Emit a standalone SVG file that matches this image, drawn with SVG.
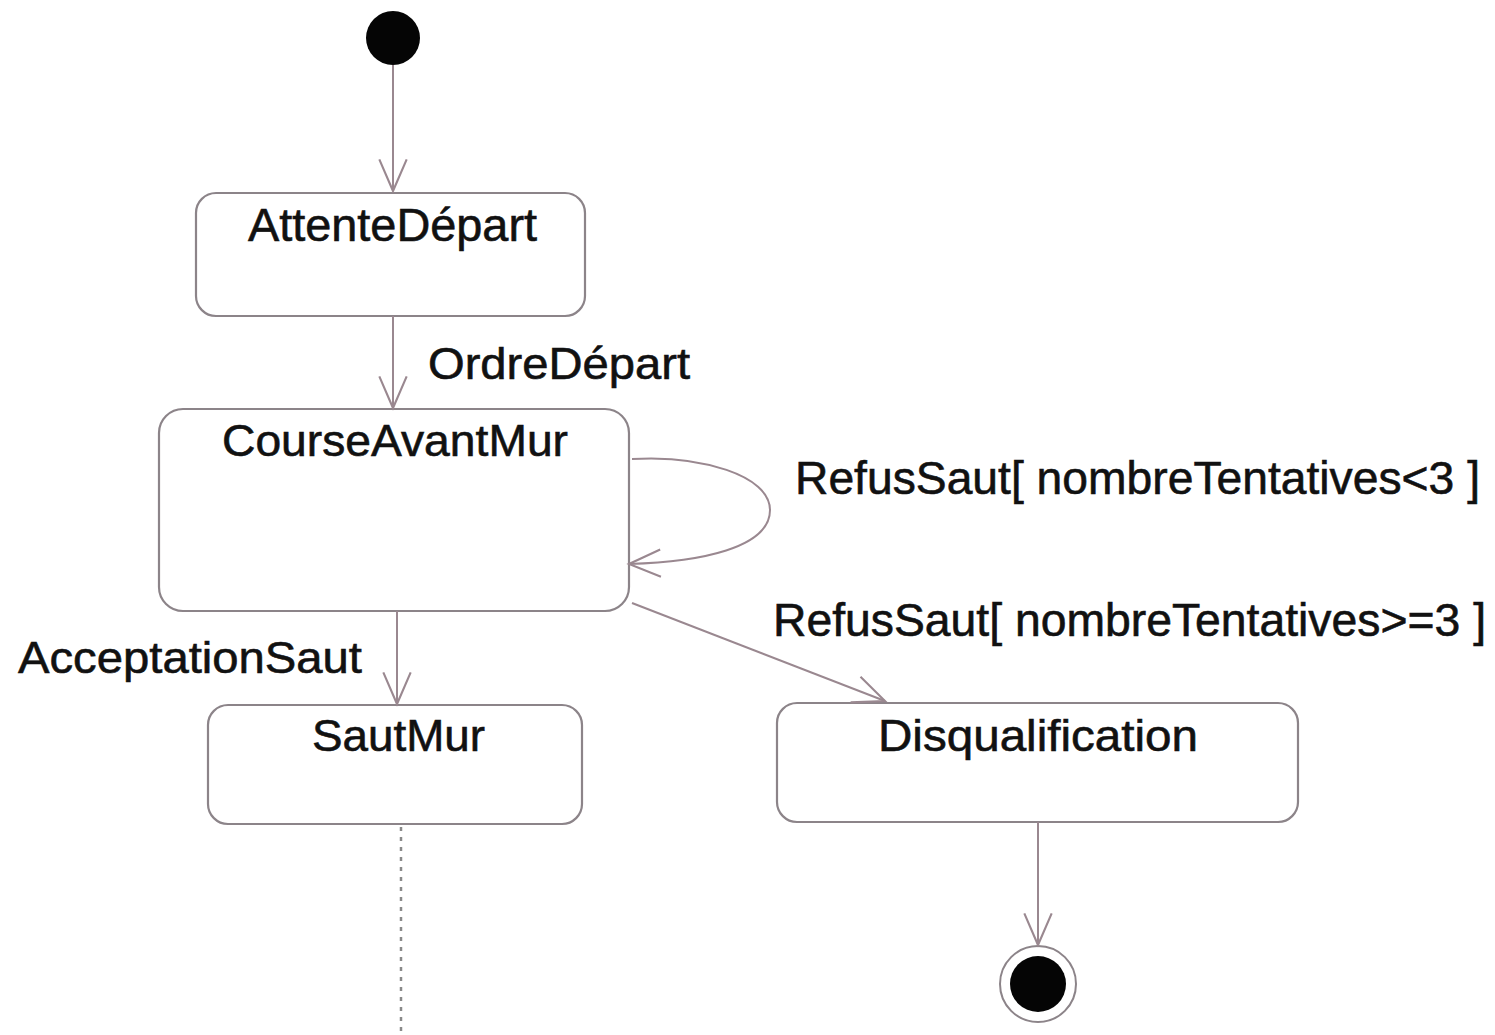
<svg xmlns="http://www.w3.org/2000/svg" width="1495" height="1035" viewBox="0 0 1495 1035">
  <defs>
    <marker id="open-arrow" markerUnits="userSpaceOnUse" markerWidth="40" markerHeight="40" viewBox="-34 -16 38 32" refX="0" refY="0" orient="auto">
      <path d="M -30 -13 L 0 0 L -30 13" fill="none" stroke="#9a8890" stroke-width="2"/>
    </marker>
  </defs>
  <style>
    .state rect { fill: #ffffff; stroke: #8c8489; stroke-width: 2.2; }
    .label { font-family: "Liberation Sans", Arial, sans-serif; fill: #111111; stroke: #111111; stroke-width: 0.6; }
    .edge { fill: none; stroke: #9a8890; stroke-width: 2; }
    .lifeline { fill: none; stroke: #8a8a8a; stroke-width: 2.5; stroke-dasharray: 4 6; }
  </style>
  <rect width="1495" height="1035" fill="#ffffff"/>

  <!-- pseudo states -->
  <g id="initial">
    <circle cx="393" cy="38" r="27" fill="#050505"/>
  </g>
  <g id="final">
    <circle cx="1038" cy="984" r="38" fill="#ffffff" stroke="#8c8489" stroke-width="2"/>
    <circle cx="1038" cy="984" r="28" fill="#050505"/>
  </g>

  <!-- states -->
  <g id="AttenteDepart" class="state">
    <rect x="196" y="193" width="389" height="123" rx="20"/>
    <text class="label" x="248" y="241" font-size="46" textLength="289" lengthAdjust="spacingAndGlyphs">AttenteDépart</text>
  </g>
  <g id="CourseAvantMur" class="state">
    <rect x="159" y="409" width="470" height="202" rx="24"/>
    <text class="label" x="222" y="456" font-size="45" textLength="346" lengthAdjust="spacingAndGlyphs">CourseAvantMur</text>
  </g>
  <g id="SautMur" class="state">
    <rect x="208" y="705" width="374" height="119" rx="20"/>
    <text class="label" x="312" y="751" font-size="45" textLength="173" lengthAdjust="spacingAndGlyphs">SautMur</text>
  </g>
  <g id="Disqualification" class="state">
    <rect x="777" y="703" width="521" height="119" rx="20"/>
    <text class="label" x="878" y="751" font-size="45" textLength="320" lengthAdjust="spacingAndGlyphs">Disqualification</text>
  </g>

  <!-- transitions -->
  <g id="connectors">
    <line class="edge" x1="393" y1="65" x2="393" y2="191" marker-end="url(#open-arrow)"/>
    <line class="edge" x1="393" y1="316" x2="393" y2="408" marker-end="url(#open-arrow)"/>
    <path class="edge" d="M 632 459 C 700 455, 770 475, 770 510 C 770 548, 700 562, 629 564" marker-end="url(#open-arrow)"/>
    <line class="edge" x1="632" y1="603" x2="885" y2="701" marker-end="url(#open-arrow)"/>
    <line class="edge" x1="397" y1="611" x2="397" y2="704" marker-end="url(#open-arrow)"/>
    <line class="edge" x1="1038" y1="822" x2="1038" y2="945" marker-end="url(#open-arrow)"/>
    <line class="lifeline" x1="401" y1="827" x2="401" y2="1035"/>

    <text class="label" x="428" y="379" font-size="45" textLength="262" lengthAdjust="spacingAndGlyphs">OrdreDépart</text>
    <text class="label" x="795" y="494" font-size="46" textLength="685" lengthAdjust="spacingAndGlyphs">RefusSaut[ nombreTentatives&lt;3 ]</text>
    <text class="label" x="773" y="636" font-size="46" textLength="713" lengthAdjust="spacingAndGlyphs">RefusSaut[ nombreTentatives&gt;=3 ]</text>
    <text class="label" x="18" y="673" font-size="45" textLength="344" lengthAdjust="spacingAndGlyphs">AcceptationSaut</text>
  </g>
</svg>
